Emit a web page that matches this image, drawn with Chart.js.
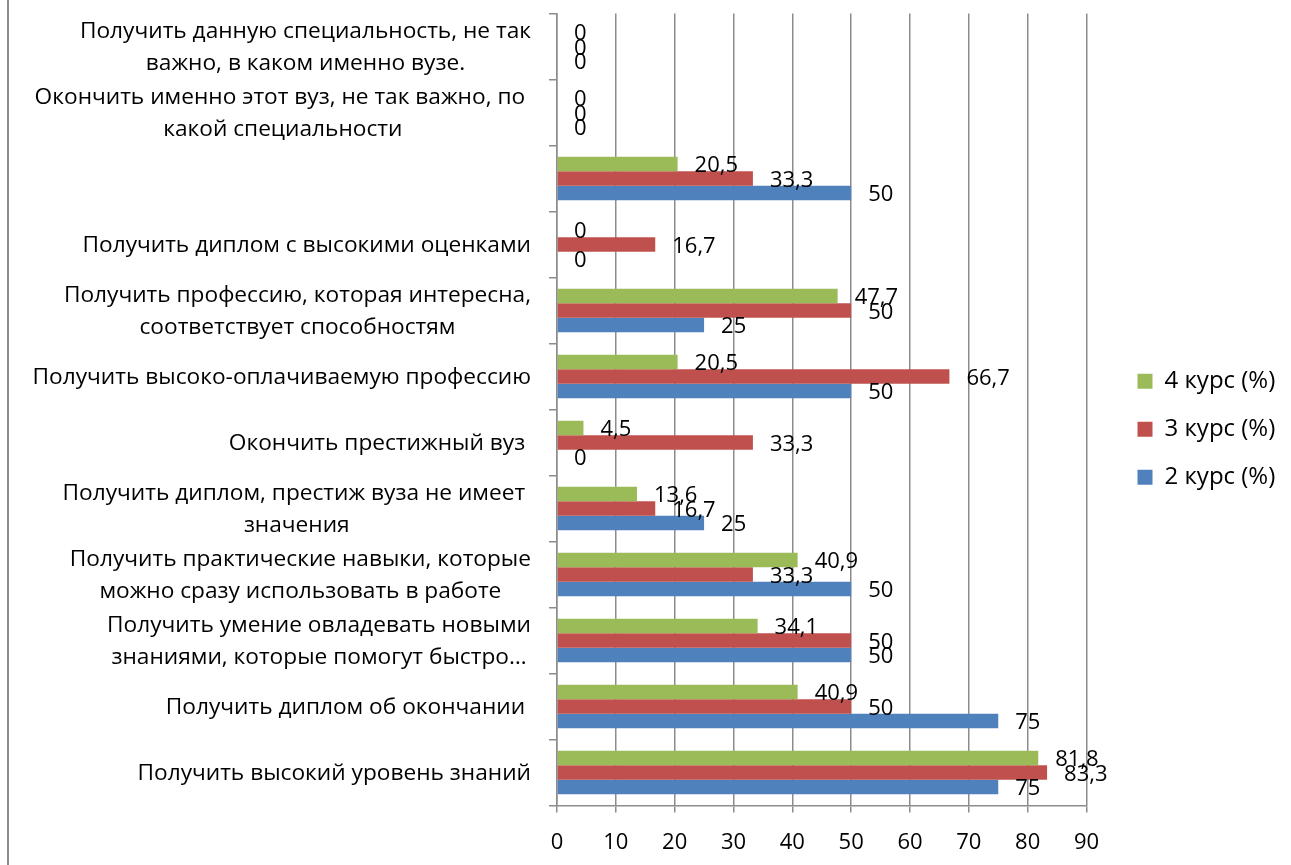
<!DOCTYPE html>
<html>
<head>
<meta charset="utf-8">
<script src="https://cdn.jsdelivr.net/npm/chart.js@4.4.1/dist/chart.umd.min.js"></script>
<style>
  html, body { margin: 0; padding: 0; background: #fff; }
  #wrap { position: relative; width: 1291px; height: 865px; }
  #frame { position: absolute; left: 7px; top: 0; width: 2px; height: 865px; background: #8c8c8c; }
  canvas { position: absolute; left: 0; top: 0; }
</style>
</head>
<body>
<div id="wrap"><canvas id="chart" width="1291" height="865"></canvas><div id="frame"></div></div>
<script>
// survey answers, top row first
var categories = [
  ["Получить данную специальность, не так", "важно, в каком именно вузе."],
  ["Окончить именно этот вуз, не так важно, по ", "какой специальности"],
  "",
  "Получить диплом с высокими оценками",
  ["Получить профессию, которая интересна,", "соответствует способностям"],
  "Получить высоко-оплачиваемую профессию",
  "Окончить престижный вуз ",
  ["Получить диплом, престиж вуза не имеет ", "значения"],
  ["Получить практические навыки, которые", "можно сразу использовать в работе"],
  ["Получить умение овладевать новыми", "знаниями, которые помогут быстро…"],
  "Получить диплом об окончании ",
  "Получить высокий уровень знаний"
];
var kurs4 = [0, 0, 20.5, 0, 47.7, 20.5, 4.5, 13.6, 40.9, 34.1, 40.9, 81.8];
var kurs3 = [0, 0, 33.3, 16.7, 50, 66.7, 33.3, 16.7, 33.3, 50, 50, 83.3];
var kurs2 = [0, 0, 50, 0, 25, 50, 0, 25, 50, 50, 75, 75];
var seriesNames = ["4 курс (%)", "3 курс (%)", "2 курс (%)"];
var xTicks = [0, 10, 20, 30, 40, 50, 60, 70, 80, 90];

var FONT = "'Open Sans', 'DejaVu Sans', sans-serif";
var gridColor = "#8c8c8c";
var AXIS_X = 557;      // left edge of the plot
var PLOT_RIGHT = 1086.5;
var LEGEND_SHIFT = 27;
var LEGEND_LIFT = 10;

// value labels just past the end of each bar
var valueLabels = {
  id: "valueLabels",
  afterDatasetsDraw: function(chart) {
    var ctx = chart.ctx;
    ctx.save();
    ctx.font = "22px " + FONT;
    ctx.fillStyle = "#000";
    ctx.textAlign = "left";
    ctx.textBaseline = "middle";
    chart.data.datasets.forEach(function(ds, di) {
      chart.getDatasetMeta(di).data.forEach(function(bar, i) {
        var txt = String(ds.data[i]).replace(".", ",");
        ctx.fillText(txt, bar.x + 17, bar.y + 2);
      });
    });
    ctx.restore();
  }
};

// category names: each block right-aligned, its lines centred
var categoryLabels = {
  id: "categoryLabels",
  afterDraw: function(chart) {
    var ctx = chart.ctx;
    var yScale = chart.scales.y;
    var right = AXIS_X - 26;
    var lineH = 32;
    ctx.save();
    ctx.font = "22.7px " + FONT;
    ctx.fillStyle = "#000";
    ctx.textAlign = "center";
    ctx.textBaseline = "middle";
    chart.data.labels.forEach(function(lab, i) {
      var lines = Array.isArray(lab) ? lab : [lab];
      var w = 0;
      lines.forEach(function(l) { w = Math.max(w, ctx.measureText(l).width); });
      var cx = right - w / 2;
      var cy = yScale.getPixelForTick(i) + 1;
      lines.forEach(function(l, k) {
        ctx.fillText(l, cx, cy + (k - (lines.length - 1) / 2) * lineH);
      });
    });
    ctx.restore();
  }
};

// legend sits a little apart from the plot
var legendPlacement = {
  id: "legendPlacement",
  beforeInit: function(chart) {
    var lg = chart.legend;
    var fit = lg.fit;
    lg.fit = function() {
      fit.call(this);
      this.width = 1291 - PLOT_RIGHT;
    };
  },
  afterLayout: function(chart) {
    var lg = chart.legend;
    lg.left += LEGEND_SHIFT;
    lg.right += LEGEND_SHIFT;
    lg.top -= LEGEND_LIFT;
    lg.bottom -= LEGEND_LIFT;
  }
};

var ctx = document.getElementById("chart").getContext("2d");
var chart = new Chart(ctx, {
  type: "bar",
  data: {
    labels: categories,
    datasets: [
      { label: seriesNames[0], data: kurs4, backgroundColor: "#9BBB59" },
      { label: seriesNames[1], data: kurs3, backgroundColor: "#C0504D" },
      { label: seriesNames[2], data: kurs2, backgroundColor: "#4F81BD" }
    ]
  },
  options: {
    indexAxis: "y",
    responsive: false,
    animation: false,
    devicePixelRatio: 1,
    categoryPercentage: 0.66,
    barPercentage: 1.0,
    layout: { padding: { top: 13.5, bottom: 0, left: 0, right: 0 } },
    scales: {
      x: {
        min: 0,
        max: 90,
        afterBuildTicks: function(s) { s.ticks = xTicks.map(function(v) { return { value: v }; }); },
        afterFit: function(s) { s.height = 865 - 805.5; },
        grid: { color: gridColor, lineWidth: 1.5, tickLength: 7 },
        border: { color: gridColor, width: 1.5 },
        ticks: { font: { family: FONT, size: 22 }, color: "#000", padding: 17 }
      },
      y: {
        afterFit: function(s) { s.width = AXIS_X; },
        grid: { drawOnChartArea: false, color: gridColor, lineWidth: 1.5, tickLength: 8 },
        border: { color: gridColor, width: 1.5 },
        ticks: { display: false }
      }
    },
    plugins: {
      tooltip: { enabled: false },
      legend: {
        position: "right",
        labels: {
          font: { family: FONT, size: 24 },
          color: "#000",
          boxWidth: 15,
          boxHeight: 15,
          padding: 24
        }
      }
    }
  },
  plugins: [valueLabels, categoryLabels, legendPlacement]
});
</script>
</body>
</html>
